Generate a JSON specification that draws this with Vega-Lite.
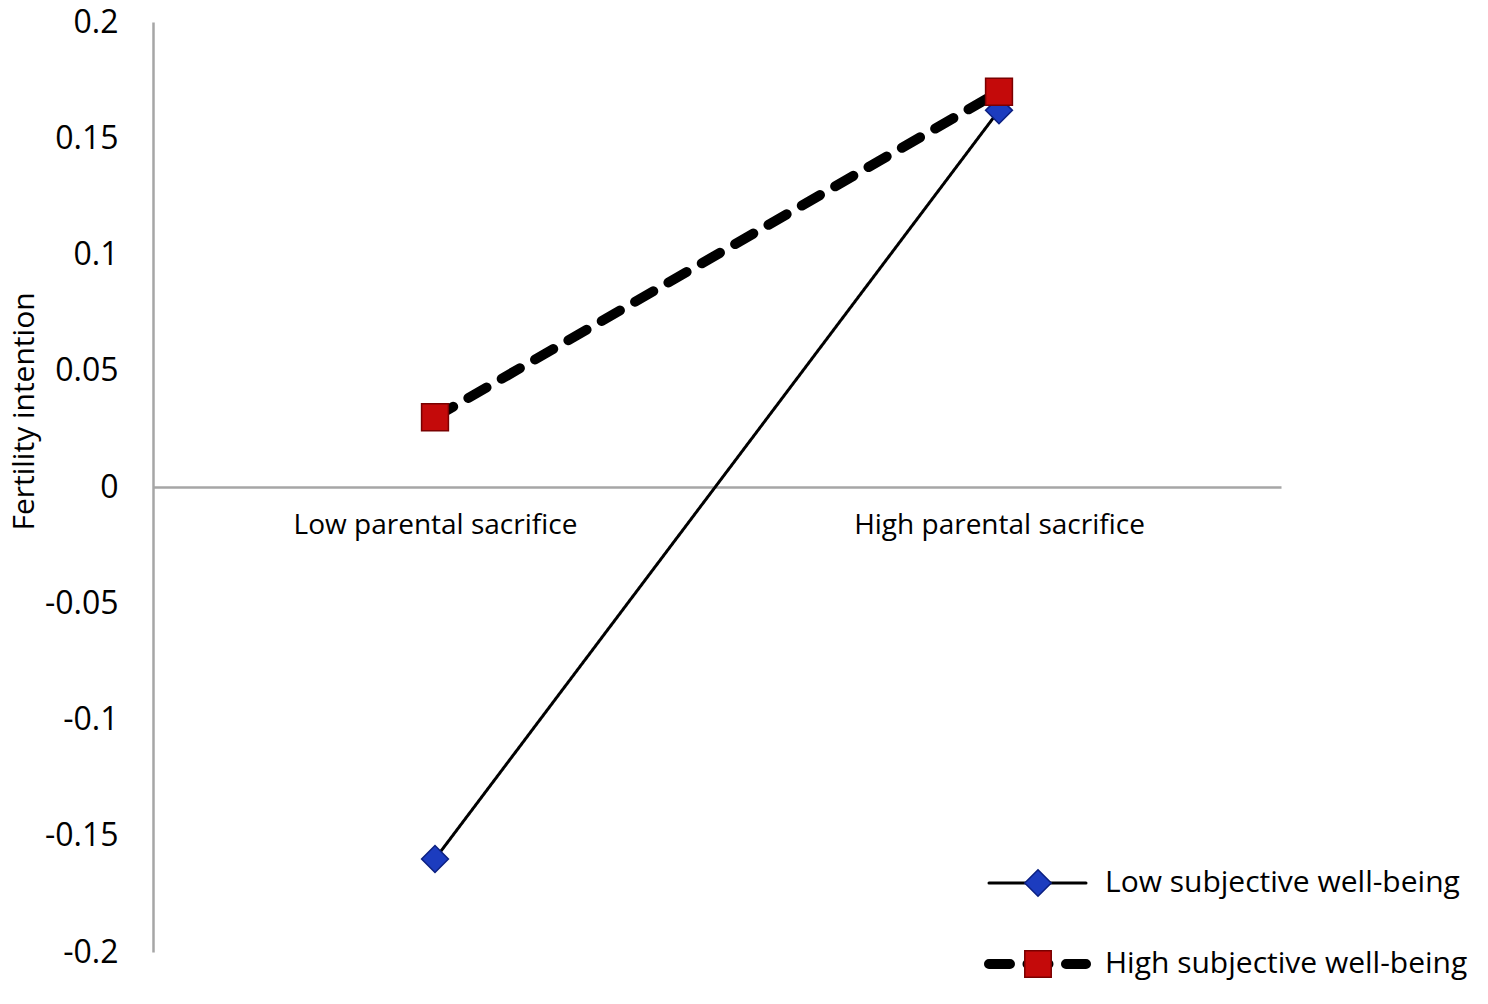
{
  "$schema": "https://vega.github.io/schema/vega-lite/v6.json",
  "width": 1128,
  "height": 930,
  "autosize": {"type": "none"},
  "padding": {"left": 153, "top": 22, "right": 207, "bottom": 52},
  "background": "white",
  "config": {"view": {"stroke": null}, "font": "Open Sans"},
  "data": {
    "values": [
      {"sacrifice": "Low parental sacrifice", "swb": "Low subjective well-being", "value": -0.16},
      {"sacrifice": "High parental sacrifice", "swb": "Low subjective well-being", "value": 0.162},
      {"sacrifice": "Low parental sacrifice", "swb": "High subjective well-being", "value": 0.03},
      {"sacrifice": "High parental sacrifice", "swb": "High subjective well-being", "value": 0.17}
    ]
  },
  "encoding": {
    "x": {
      "field": "sacrifice",
      "type": "nominal",
      "sort": ["Low parental sacrifice", "High parental sacrifice"],
      "scale": {"type": "point", "padding": 0.5},
      "axis": {
        "title": null,
        "orient": "bottom",
        "offset": -465,
        "ticks": false,
        "grid": false,
        "domainColor": "#a6a6a6",
        "domainWidth": 2.5,
        "labelFont": "Open Sans",
        "labelFontSize": 28,
        "labelColor": "black",
        "labelPadding": 24,
        "labelLimit": 0,
        "labelAngle": 0
      }
    },
    "y": {
      "field": "value",
      "type": "quantitative",
      "scale": {"domain": [-0.2, 0.2], "nice": false, "zero": false},
      "axis": {
        "title": "Fertility intention",
        "values": [-0.2, -0.15, -0.1, -0.05, 0, 0.05, 0.1, 0.15, 0.2],
        "labelExpr": "'' + datum.value",
        "ticks": false,
        "grid": false,
        "domainColor": "#a6a6a6",
        "domainWidth": 2.5,
        "labelFont": "Open Sans",
        "labelFontSize": 32,
        "labelColor": "black",
        "labelPadding": 35,
        "titleFont": "Open Sans",
        "titleFontSize": 30,
        "titleFontWeight": "normal",
        "titleColor": "black",
        "titleX": -114,
        "titleY": 389,
        "titleAngle": -90,
        "titleAlign": "center",
        "titleBaseline": "bottom",
        "titleLimit": 0
      }
    }
  },
  "layer": [
    {
      "mark": {"type": "line", "color": "black", "strokeCap": "round"},
      "encoding": {
        "strokeDash": {
          "field": "swb",
          "type": "nominal",
          "scale": {
            "domain": ["Low subjective well-being", "High subjective well-being"],
            "range": [[1, 0], [21, 17.5]]
          },
          "legend": {
            "orient": "none",
            "legendX": 869.5,
            "legendY": 846,
            "title": null,
            "symbolType": "M-5.39,0H5.39",
            "symbolSize": 324,
            "symbolStrokeColor": "black",
            "symbolStrokeWidth": 3,
            "labelFont": "Open Sans",
            "labelFontSize": 30,
            "labelColor": "black",
            "labelOffset": 52.5,
            "labelLimit": 0,
            "rowPadding": 46,
            "encode": {
              "symbols": {
                "update": {
                  "strokeWidth": {"signal": "datum.value === 'High subjective well-being' ? 10 : 3"},
                  "strokeDash": {"signal": "datum.value === 'High subjective well-being' ? [20, 53] : [1, 0]"},
                  "strokeCap": {"value": "round"}
                }
              }
            }
          }
        },
        "strokeWidth": {
          "field": "swb",
          "type": "ordinal",
          "scale": {
            "domain": ["Low subjective well-being", "High subjective well-being"],
            "range": [3, 10]
          },
          "legend": null
        }
      }
    },
    {
      "mark": {"type": "point", "filled": true, "opacity": 1, "size": 720, "strokeWidth": 1.5},
      "encoding": {
        "shape": {
          "field": "swb",
          "type": "nominal",
          "sort": "descending",
          "scale": {"range": ["diamond", "square"]},
          "legend": {
            "orient": "none",
            "legendX": 871,
            "legendY": 847,
            "title": null,
            "symbolSize": 700,
            "symbolStrokeWidth": 1.5,
            "labelFontSize": 10,
            "labelExpr": "''",
            "labelOffset": 0,
            "rowPadding": 47
          }
        },
        "fill": {
          "field": "swb",
          "type": "nominal",
          "sort": "descending",
          "scale": {"range": ["#1c3cbf", "#c40a0a"]}
        },
        "stroke": {
          "field": "swb",
          "type": "nominal",
          "sort": "descending",
          "scale": {"range": ["#0b1f80", "#7a0000"]}
        }
      }
    }
  ]
}
